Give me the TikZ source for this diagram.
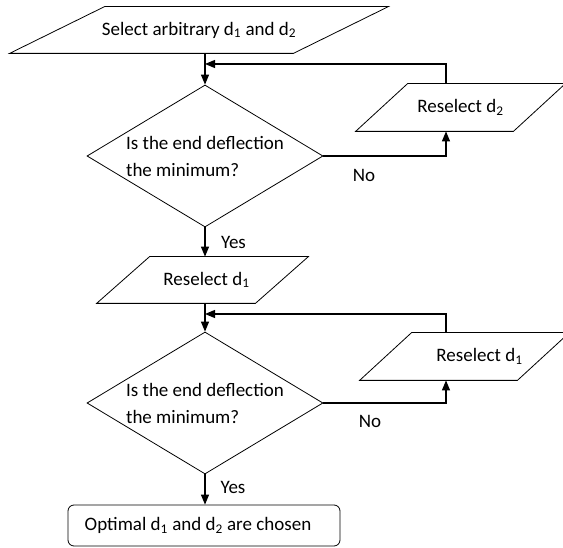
\documentclass[tikz,border=0pt]{standalone}
\usepackage{fontspec}
\setmainfont{Carlito}
\usetikzlibrary{shapes.geometric,arrows.meta,calc}
\newcommand\parapath[2]{\draw ([xshift=#2]#1.north west) -- ([xshift=#2]#1.north east) -- ([xshift=-#2]#1.south east) -- ([xshift=-#2]#1.south west) -- cycle;}
\begin{document}
\begin{tikzpicture}[x=1pt,y=-1pt, line width=0.8pt,
  txt/.style={font=\fontsize{19}{27}\selectfont},
  box/.style={txt, inner sep=0pt, minimum height=46pt},
  dec/.style={txt, draw, diamond, aspect=1.66, inner sep=0pt, minimum width=236pt, minimum height=142pt, align=left},
  arr/.style={line width=1.1pt, -{Triangle[length=10pt,width=8pt]}},
  lbl/.style={txt, inner sep=0pt}]
\useasboundingbox (0,0) rectangle (563,548);
\node[box, minimum width=283pt] (sel) at (199,30) {Select arbitrary d\textsubscript{1} and d\textsubscript{2}};
\parapath{sel}{47.5pt}
\node[dec] (q1) at (205,156) {Is the end deflection\\the minimum?};
\node[box, minimum width=157pt, minimum height=47pt] (rs2) at (460.5,107.5) {Reselect d\textsubscript{2}};
\parapath{rs2}{26pt}
\node[box, minimum width=158pt] (rd1) at (202.5,280) {\hspace*{8pt}Reselect d\textsubscript{1}};
\parapath{rd1}{26.5pt}
\node[dec] (q2) at (205,403) {Is the end deflection\\the minimum?};
\node[box, minimum width=157pt, minimum height=47pt] (rs1) at (464.5,356.5) {\hspace*{30pt}Reselect d\textsubscript{1}};
\parapath{rs1}{26pt}
\node[txt, draw, rounded corners=6pt, inner sep=0pt, minimum width=272pt, minimum height=41pt] (fin) at (204,525.5) {Optimal d\textsubscript{1} and d\textsubscript{2} are chosen\hspace*{12pt}};
\coordinate (j1) at (205,64);
\coordinate (j2) at (205,314);
\draw[arr] (sel.south -| q1.north) -- (q1.north);
\draw[arr] ([xshift=-14.5pt]rs2.north) |- (j1);
\draw[arr] (q1.east) -| ([xshift=-14.5pt]rs2.south);
\node[lbl] at (364,175) {No};
\draw[arr] (q1.south) -- (q1.south |- rd1.north);
\node[lbl] at (233.5,242) {Yes};
\draw[arr] (rd1.south -| q2.north) -- (q2.north);
\draw[arr] ([xshift=-18.5pt]rs1.north) |- (j2);
\draw[arr] (q2.east) -| ([xshift=-18.5pt]rs1.south);
\node[lbl] at (370,421) {No};
\draw[arr] (q2.south) -- (q2.south |- fin.north);
\node[lbl] at (233,487) {Yes};
\end{tikzpicture}
\end{document}
